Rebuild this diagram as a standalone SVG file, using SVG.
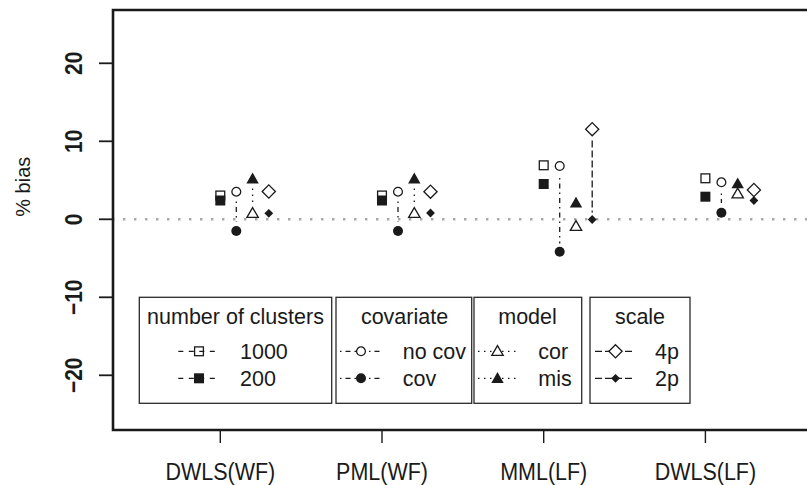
<svg xmlns="http://www.w3.org/2000/svg" xmlns:xlink="http://www.w3.org/1999/xlink" width="807" height="485" viewBox="0 0 807 485">
  <style>
    text { font-family: "Liberation Sans", Arial, sans-serif; fill: #1a1a1a; }
    .axl { font-size: 21.5px; text-anchor: middle; }
    .ayl { font-size: 21px; font-weight: bold; text-anchor: middle; }
    .leg { font-size: 21.5px; }
    .legt { font-size: 21.5px; text-anchor: middle; }
    .frame { fill: none; stroke: #1a1a1a; stroke-width: 2.6; }
    .tick { stroke: #1a1a1a; stroke-width: 1.8; }
    .lbox { fill: #fff; stroke: #2a2a2a; stroke-width: 1.3; }
    .ln { fill: none; stroke: #1a1a1a; stroke-width: 1.3; }
    .dash { stroke-dasharray: 5 5.5; }
    .dotdash { stroke-dasharray: 1.5 4 5 4; }
    .dot { stroke-dasharray: 1.5 4.5; }
    .longdash { stroke-dasharray: 7 3; }
    .open { fill: #fff; stroke: #1a1a1a; stroke-width: 1.3; }
    .open-t { fill: none; stroke: #1a1a1a; stroke-width: 1.3; }
    .full { fill: #1a1a1a; stroke: none; }
  </style>
  <defs>
    <rect id="sqO" class="open-t" x="-4.4" y="-4.4" width="8.8" height="8.8"/>
    <rect id="sqF" class="full" x="-5" y="-5" width="10" height="10"/>
    <circle id="ciO" class="open" r="4.4"/>
    <circle id="ciF" class="full" r="5"/>
    <polygon id="trO" class="open" points="0,-4.9 5.7,4.9 -5.7,4.9"/>
    <polygon id="trF" class="full" points="0,-5.4 6.2,5.4 -6.2,5.4"/>
    <polygon id="diO" class="open" points="0,-6.6 6.6,0 0,6.6 -6.6,0"/>
    <polygon id="diF" class="full" points="0,-4.4 4.4,0 0,4.4 -4.4,0"/>
  </defs>

  <rect width="807" height="485" fill="#fff"/>

  <!-- reference line at zero -->
  <line x1="112" y1="219.3" x2="807" y2="219.3" stroke="#a8a8a8" stroke-width="2.4" stroke-dasharray="2.4 8.6"/>

  <!-- plot frame and axes -->
  <g id="axes">
    <polyline class="frame" points="812,10 113,10 113,430 812,430"/>
    <g class="tick">
      <line x1="99" y1="63.3" x2="113" y2="63.3"/>
      <line x1="99" y1="141.3" x2="113" y2="141.3"/>
      <line x1="99" y1="219.3" x2="113" y2="219.3"/>
      <line x1="99" y1="297.3" x2="113" y2="297.3"/>
      <line x1="99" y1="375.3" x2="113" y2="375.3"/>
    </g>
    <g class="tick" style="stroke-width:1.4">
      <line x1="220.3" y1="430" x2="220.3" y2="443"/>
      <line x1="382" y1="430" x2="382" y2="443"/>
      <line x1="543.7" y1="430" x2="543.7" y2="443"/>
      <line x1="705.4" y1="430" x2="705.4" y2="443"/>
    </g>
    <text class="ayl" transform="translate(81.7,63.3) rotate(-90) scale(1,1.15)">20</text>
    <text class="ayl" transform="translate(81.7,141.3) rotate(-90) scale(1,1.15)">10</text>
    <text class="ayl" transform="translate(81.7,219.3) rotate(-90) scale(1,1.15)">0</text>
    <text class="ayl" transform="translate(81.7,297.3) rotate(-90) scale(1,1.15)">−10</text>
    <text class="ayl" transform="translate(81.7,375.3) rotate(-90) scale(1,1.15)">−20</text>
    <text class="axl" transform="translate(220.3,479.5) scale(1,1.15)">DWLS(WF)</text>
    <text class="axl" transform="translate(382,479.5) scale(1,1.15)">PML(WF)</text>
    <text class="axl" transform="translate(543.7,479.5) scale(1,1.15)">MML(LF)</text>
    <text class="axl" transform="translate(705.4,479.5) scale(1,1.15)">DWLS(LF)</text>
    <text transform="translate(29.5,186.7) rotate(-90)" style="font-size:20px;text-anchor:middle">% bias</text>
  </g>

  <!-- vertical links between paired estimates -->
  <g id="connectors">
    <line class="ln dotdash" x1="236.3" y1="201.5" x2="236.3" y2="222"/>
    <line class="ln dot" x1="252.6" y1="188.5" x2="252.6" y2="203"/>
    <line class="ln dotdash" x1="398" y1="201.5" x2="398" y2="222"/>
    <line class="ln dot" x1="414.3" y1="188.5" x2="414.3" y2="203"/>
    <line class="ln dotdash" x1="559.7" y1="178" x2="559.7" y2="243.5"/>
    <line class="ln longdash" x1="592.2" y1="140.5" x2="592.2" y2="212.5"/>
    <line class="ln dotdash" x1="721.4" y1="193.5" x2="721.4" y2="203"/>
  </g>

  <!-- estimates: DWLS(WF) -->
  <g id="dwls-wf">
    <use xlink:href="#sqO" x="220.3" y="195.5"/>
    <use xlink:href="#sqF" x="220.3" y="200.5"/>
    <use xlink:href="#ciO" x="236.3" y="191.7"/>
    <use xlink:href="#ciF" x="236.3" y="231"/>
    <use xlink:href="#trO" x="252.6" y="212.5"/>
    <use xlink:href="#trF" x="252.6" y="178"/>
    <use xlink:href="#diO" x="268.8" y="191.5"/>
    <use xlink:href="#diF" x="268.8" y="213.3"/>
  </g>

  <!-- estimates: PML(WF) -->
  <g id="pml-wf">
    <use xlink:href="#sqO" x="382" y="195.5"/>
    <use xlink:href="#sqF" x="382" y="200.5"/>
    <use xlink:href="#ciO" x="398" y="191.7"/>
    <use xlink:href="#ciF" x="398" y="231"/>
    <use xlink:href="#trO" x="414.3" y="212.5"/>
    <use xlink:href="#trF" x="414.3" y="178"/>
    <use xlink:href="#diO" x="430.5" y="191.7"/>
    <use xlink:href="#diF" x="430.5" y="213"/>
  </g>

  <!-- estimates: MML(LF) -->
  <g id="mml-lf">
    <use xlink:href="#sqO" x="543.7" y="165.3"/>
    <use xlink:href="#sqF" x="543.7" y="184"/>
    <use xlink:href="#ciO" x="559.7" y="166"/>
    <use xlink:href="#ciF" x="559.7" y="251.7"/>
    <use xlink:href="#trO" x="576" y="225.5"/>
    <use xlink:href="#trF" x="576" y="202.2"/>
    <use xlink:href="#diO" x="592.2" y="129.2"/>
    <use xlink:href="#diF" x="592.2" y="219.5"/>
  </g>

  <!-- estimates: DWLS(LF) -->
  <g id="dwls-lf">
    <use xlink:href="#sqO" x="705.4" y="178.3"/>
    <use xlink:href="#sqF" x="705.4" y="196.7"/>
    <use xlink:href="#ciO" x="721.4" y="182.3"/>
    <use xlink:href="#ciF" x="721.4" y="212.7"/>
    <use xlink:href="#trO" x="737.7" y="193"/>
    <use xlink:href="#trF" x="737.7" y="182.8"/>
    <use xlink:href="#diO" x="753.9" y="190"/>
    <use xlink:href="#diF" x="753.9" y="200.5"/>
  </g>

  <!-- legends -->
  <g id="legend-clusters">
    <rect class="lbox" x="139.3" y="297.3" width="192.4" height="106"/>
    <text class="legt" x="235.5" y="324">number of clusters</text>
    <line class="ln dash" x1="178.3" y1="351.3" x2="216" y2="351.3"/>
    <line class="ln dash" x1="178.3" y1="378.3" x2="216" y2="378.3"/>
    <use xlink:href="#sqO" x="199" y="351.3"/>
    <use xlink:href="#sqF" x="199" y="378.3"/>
    <text class="leg" x="240" y="359">1000</text>
    <text class="leg" x="240" y="386.3">200</text>
  </g>
  <g id="legend-covariate">
    <rect class="lbox" x="336" y="297.3" width="135.7" height="106"/>
    <text class="legt" x="404.5" y="324">covariate</text>
    <line class="ln dotdash" x1="340" y1="351.3" x2="381" y2="351.3"/>
    <line class="ln dotdash" x1="340" y1="378.3" x2="381" y2="378.3"/>
    <use xlink:href="#ciO" x="361" y="351.3"/>
    <use xlink:href="#ciF" x="361" y="378.3"/>
    <text class="leg" x="402.7" y="359">no cov</text>
    <text class="leg" x="402.7" y="386.3">cov</text>
  </g>
  <g id="legend-model">
    <rect class="lbox" x="474" y="297.3" width="107.7" height="106"/>
    <text class="legt" x="527.5" y="324">model</text>
    <line class="ln dot" x1="478" y1="351.3" x2="518" y2="351.3"/>
    <line class="ln dot" x1="478" y1="378.3" x2="518" y2="378.3"/>
    <use xlink:href="#trO" x="497.5" y="350.5"/>
    <use xlink:href="#trF" x="497.5" y="377.5"/>
    <text class="leg" x="538.3" y="359">cor</text>
    <text class="leg" x="538.3" y="386.3">mis</text>
  </g>
  <g id="legend-scale">
    <rect class="lbox" x="590" y="297.3" width="100" height="106"/>
    <text class="legt" x="640" y="324">scale</text>
    <line class="ln longdash" x1="595" y1="351.3" x2="633" y2="351.3"/>
    <line class="ln longdash" x1="595" y1="378.3" x2="633" y2="378.3"/>
    <use xlink:href="#diO" x="615.5" y="351.3"/>
    <use xlink:href="#diF" x="615.5" y="378.3"/>
    <text class="leg" x="655" y="359">4p</text>
    <text class="leg" x="655" y="386.3">2p</text>
  </g>
</svg>
